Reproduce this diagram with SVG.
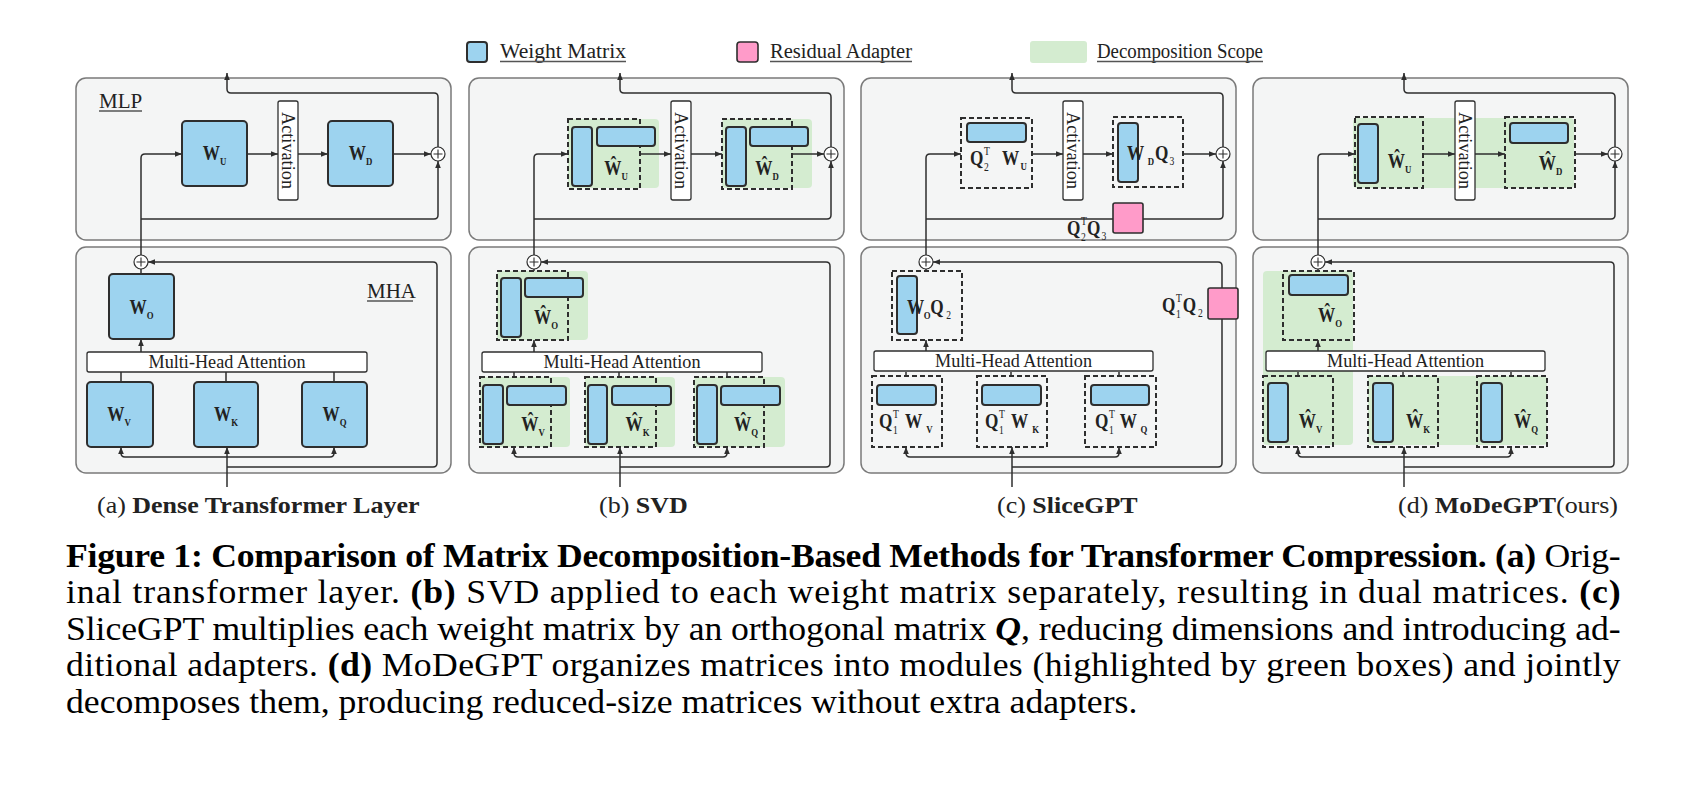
<svg xmlns="http://www.w3.org/2000/svg" width="1686" height="799" viewBox="0 0 1686 799">
<style>
.bg{fill:#fff}
.panel{fill:#f4f5f5;stroke:#7a7a7a;stroke-width:1.5}
.blue{fill:#9dd3ef;stroke:#2e2e2e;stroke-width:2}
.green{fill:#d4ecd0}
.dash{fill:none;stroke:#2e2e2e;stroke-width:2;stroke-dasharray:5 3}
.white{fill:#fff;stroke:#2e2e2e;stroke-width:1.3}
.pink{fill:#ff9bc9;stroke:#2e2e2e;stroke-width:1.6}
.conn{fill:none;stroke:#2e2e2e;stroke-width:1.5}
.plus{fill:#fff;stroke:#2e2e2e;stroke-width:1.2}
.s{font-family:"Liberation Serif","Times New Roman",serif;fill:#222}
.lbl{font-size:21px}
.ml{font-family:"Liberation Serif","Times New Roman",serif;fill:#222;font-weight:bold;font-size:21.5px}
.sb{font-size:11px;font-weight:bold}
.sn{font-size:12px;font-weight:normal}
.act{font-size:18.5px}
.mha{font-size:19px}
.leg{font-size:20px}
.cap{font-family:"Liberation Serif","Times New Roman",serif;fill:#000;font-size:34.5px}
.sc{font-family:"Liberation Serif","Times New Roman",serif;fill:#222;font-size:22.5px}
.ul{stroke:#555;stroke-width:1.3}
</style>
<defs>
<marker id="ah" viewBox="0 0 10 10" refX="10" refY="5" markerWidth="7" markerHeight="7" markerUnits="userSpaceOnUse" orient="auto-start-reverse"><path d="M0,1 L10,5 L0,9 z" fill="#2e2e2e"/></marker>
</defs>
<rect class="bg" x="0" y="0" width="1686" height="799"/>

<!-- legend -->
<g id="legend">
  <g id="legend-weight"><rect class="blue" x="467" y="42" width="20" height="20" rx="3"/><text class="s leg" x="500" y="58" textLength="126" lengthAdjust="spacingAndGlyphs">Weight Matrix</text><line class="ul" x1="500" y1="61.5" x2="626" y2="61.5"/></g>
  <g id="legend-adapter"><rect class="pink" x="737" y="42" width="21" height="20" rx="3"/><text class="s leg" x="770" y="58" textLength="142" lengthAdjust="spacingAndGlyphs">Residual Adapter</text><line class="ul" x1="770" y1="61.5" x2="912" y2="61.5"/></g>
  <g id="legend-scope"><rect class="green" x="1030" y="41" width="57" height="22" rx="3"/><text class="s leg" x="1097" y="58" textLength="166" lengthAdjust="spacingAndGlyphs">Decomposition Scope</text><line class="ul" x1="1097" y1="61.5" x2="1263" y2="61.5"/></g>
</g>

<!-- panel containers -->
<g id="containers">
  <g id="panel-a" transform="translate(0,0)">
    <rect class="panel" x="76" y="78" width="375" height="162" rx="10"/>
    <text class="s lbl" x="99" y="108">MLP</text><line class="ul" x1="99" y1="111" x2="142" y2="111"/>
    <rect class="panel" x="76" y="247" width="375" height="226" rx="10"/>
    <text class="s lbl" x="367" y="298">MHA</text><line class="ul" x1="367" y1="301" x2="413" y2="301"/>
  </g>
  <g id="panel-b" transform="translate(393,0)">
    <rect class="panel" x="76" y="78" width="375" height="162" rx="10"/>
    <rect class="panel" x="76" y="247" width="375" height="226" rx="10"/>
  </g>
  <g id="panel-c" transform="translate(785,0)">
    <rect class="panel" x="76" y="78" width="375" height="162" rx="10"/>
    <rect class="panel" x="76" y="247" width="375" height="226" rx="10"/>
  </g>
  <g id="panel-d" transform="translate(1177,0)">
    <rect class="panel" x="76" y="78" width="375" height="162" rx="10"/>
    <rect class="panel" x="76" y="247" width="375" height="226" rx="10"/>
  </g>
</g>

<!-- decomposition scopes (backgrounds) -->
<g id="scopes">
  <g transform="translate(393,0)">
    <rect id="b-scope-u" class="green" x="175" y="119" width="91" height="69" rx="4"/>
    <rect id="b-scope-d" class="green" x="329" y="119" width="90" height="69" rx="4"/>
    <rect id="b-scope-o" class="green" x="104" y="271" width="91" height="69" rx="4"/>
    <rect id="b-scope-v" class="green" x="87" y="377" width="90" height="70" rx="4"/>
    <rect id="b-scope-k" class="green" x="192" y="377" width="90" height="70" rx="4"/>
    <rect id="b-scope-q" class="green" x="301" y="377" width="91" height="70" rx="4"/>
  </g>
  <g transform="translate(1177,0)">
    <rect id="d-scope-ud" class="green" x="176" y="118" width="221" height="70" rx="4"/>
    <rect id="d-scope-vo" class="green" x="86" y="271" width="90" height="174" rx="4"/>
    <rect id="d-scope-qk" class="green" x="191" y="376" width="179" height="69" rx="4"/>
  </g>
</g>

<!-- connectors -->
<g id="connectors">
  <g id="conn-a">
    <path class="conn" d="M438,147 V97 Q438,93 434,93 H231 Q227,93 227,89 V73" marker-end="url(#ah)"/>
    <path class="conn" d="M141,255 V158 Q141,154 145,154 H182" marker-end="url(#ah)"/>
    <path class="conn" d="M141,219 H434 Q438,219 438,215 V161" marker-end="url(#ah)"/>
    <path class="conn" d="M247,154 H278" marker-end="url(#ah)"/>
    <path class="conn" d="M298,154 H328" marker-end="url(#ah)"/>
    <path class="conn" d="M393,154 H431" marker-end="url(#ah)"/>
    <path class="conn" d="M141,269 V274"/>
    <path class="conn" d="M141,352 V339" marker-end="url(#ah)"/>
    <path class="conn" d="M121,372 V382 M226,372 V382 M334,372 V382"/>
    <path class="conn" d="M227,487 V447" marker-end="url(#ah)"/>
    <path class="conn" d="M121,447 V453 Q121,457 125,457 H330 Q334,457 334,453 V447" marker-start="url(#ah)" marker-end="url(#ah)"/>
    <path class="conn" d="M227,467 H433 Q437,467 437,463 V266 Q437,262 433,262 H148" marker-end="url(#ah)"/>
  </g>
  <g id="conn-b" transform="translate(393,0)">
    <path class="conn" d="M438,147 V97 Q438,93 434,93 H231 Q227,93 227,89 V73" marker-end="url(#ah)"/>
    <path class="conn" d="M141,255 V158 Q141,154 145,154 H175" marker-end="url(#ah)"/>
    <path class="conn" d="M141,219 H434 Q438,219 438,215 V161" marker-end="url(#ah)"/>
    <path class="conn" d="M247,154 H278" marker-end="url(#ah)"/>
    <path class="conn" d="M298,154 H329" marker-end="url(#ah)"/>
    <path class="conn" d="M399,154 H431" marker-end="url(#ah)"/>
    <path class="conn" d="M141,269 V271"/>
    <path class="conn" d="M141,352 V340" marker-end="url(#ah)"/>
    <path class="conn" d="M121,372 V377 M226,372 V377 M334,372 V377"/>
    <path class="conn" d="M227,487 V447" marker-end="url(#ah)"/>
    <path class="conn" d="M121,447 V453 Q121,457 125,457 H330 Q334,457 334,453 V447" marker-start="url(#ah)" marker-end="url(#ah)"/>
    <path class="conn" d="M227,467 H433 Q437,467 437,463 V266 Q437,262 433,262 H148" marker-end="url(#ah)"/>
  </g>
  <g id="conn-c" transform="translate(785,0)">
    <path class="conn" d="M438,147 V97 Q438,93 434,93 H231 Q227,93 227,89 V73" marker-end="url(#ah)"/>
    <path class="conn" d="M141,255 V158 Q141,154 145,154 H176" marker-end="url(#ah)"/>
    <path class="conn" d="M141,219 H434 Q438,219 438,215 V161" marker-end="url(#ah)"/>
    <path class="conn" d="M247,154 H278" marker-end="url(#ah)"/>
    <path class="conn" d="M298,154 H328" marker-end="url(#ah)"/>
    <path class="conn" d="M398,154 H431" marker-end="url(#ah)"/>
    <path class="conn" d="M141,269 V271"/>
    <path class="conn" d="M141,352 V340" marker-end="url(#ah)"/>
    <path class="conn" d="M121,372 V376 M226,372 V376 M334,372 V376"/>
    <path class="conn" d="M227,487 V447" marker-end="url(#ah)"/>
    <path class="conn" d="M121,447 V453 Q121,457 125,457 H330 Q334,457 334,453 V447" marker-start="url(#ah)" marker-end="url(#ah)"/>
    <path class="conn" d="M227,467 H433 Q437,467 437,463 V266 Q437,262 433,262 H148" marker-end="url(#ah)"/>
  </g>
  <g id="conn-d" transform="translate(1177,0)">
    <path class="conn" d="M438,147 V97 Q438,93 434,93 H231 Q227,93 227,89 V73" marker-end="url(#ah)"/>
    <path class="conn" d="M141,255 V158 Q141,154 145,154 H178" marker-end="url(#ah)"/>
    <path class="conn" d="M141,219 H434 Q438,219 438,215 V161" marker-end="url(#ah)"/>
    <path class="conn" d="M246,154 H278" marker-end="url(#ah)"/>
    <path class="conn" d="M298,154 H328" marker-end="url(#ah)"/>
    <path class="conn" d="M398,154 H431" marker-end="url(#ah)"/>
    <path class="conn" d="M141,269 V271"/>
    <path class="conn" d="M141,352 V340" marker-end="url(#ah)"/>
    <path class="conn" d="M121,372 V376 M226,372 V376 M334,372 V376"/>
    <path class="conn" d="M227,487 V447" marker-end="url(#ah)"/>
    <path class="conn" d="M121,447 V453 Q121,457 125,457 H330 Q334,457 334,453 V447" marker-start="url(#ah)" marker-end="url(#ah)"/>
    <path class="conn" d="M227,467 H433 Q437,467 437,463 V266 Q437,262 433,262 H148" marker-end="url(#ah)"/>
  </g>
</g>

<!-- nodes: panel a -->
<g id="nodes-a">
  <g id="a-Wu"><rect class="blue" x="182" y="121" width="65" height="65" rx="4"/><text class="ml" text-anchor="middle" transform="translate(214.5,160) scale(0.8,1)">W<tspan class="sb" dy="5">U</tspan></text></g>
  <g id="a-act"><rect class="white" x="278" y="101" width="20" height="99" rx="2"/><text class="s act" text-anchor="middle" transform="translate(288,150.5) rotate(90)" dy="6" textLength="77" lengthAdjust="spacingAndGlyphs">Activation</text></g>
  <g id="a-Wd"><rect class="blue" x="328" y="121" width="65" height="65" rx="4"/><text class="ml" text-anchor="middle" transform="translate(360.5,160) scale(0.8,1)">W<tspan class="sb" dy="5">D</tspan></text></g>
  <g id="a-add1"><circle class="plus" cx="438" cy="154" r="7"/><path class="conn" style="stroke-width:1.1" d="M433.5,154 H442.5 M438,149.5 V158.5"/></g>
  <g id="a-add2"><circle class="plus" cx="141" cy="262" r="7"/><path class="conn" style="stroke-width:1.1" d="M136.5,262 H145.5 M141,257.5 V266.5"/></g>
  <g id="a-Wo"><rect class="blue" x="109" y="274" width="65" height="65" rx="4"/><text class="ml" text-anchor="middle" transform="translate(141.5,314) scale(0.8,1)">W<tspan class="sb" dy="5">O</tspan></text></g>
  <g id="a-mha"><rect class="white" x="87" y="352" width="280" height="20" rx="2"/><text class="s mha" x="227" y="368" text-anchor="middle" textLength="157" lengthAdjust="spacingAndGlyphs">Multi-Head Attention</text></g>
  <g id="a-Wv"><rect class="blue" x="87" y="382" width="66" height="65" rx="4"/><text class="ml" text-anchor="middle" transform="translate(119,421) scale(0.8,1)">W<tspan class="sb" dy="5">V</tspan></text></g>
  <g id="a-Wk"><rect class="blue" x="194" y="382" width="64" height="65" rx="4"/><text class="ml" text-anchor="middle" transform="translate(226,421) scale(0.8,1)">W<tspan class="sb" dy="5">K</tspan></text></g>
  <g id="a-Wq"><rect class="blue" x="302" y="382" width="65" height="65" rx="4"/><text class="ml" text-anchor="middle" transform="translate(334.5,421) scale(0.8,1)">W<tspan class="sb" dy="5">Q</tspan></text></g>
</g>

<!-- nodes: panel b -->
<g id="nodes-b" transform="translate(393,0)">
  <g id="b-Wu"><rect class="dash" x="175" y="119" width="72" height="70"/><rect class="blue" x="179" y="127" width="20" height="59" rx="3"/><rect class="blue" x="204" y="127" width="58" height="19" rx="3"/><text class="ml" text-anchor="middle" transform="translate(223,175) scale(0.8,1)">Ŵ<tspan class="sb" dy="5">U</tspan></text></g>
  <g id="b-act"><rect class="white" x="278" y="101" width="20" height="99" rx="2"/><text class="s act" text-anchor="middle" transform="translate(288,150.5) rotate(90)" dy="6" textLength="77" lengthAdjust="spacingAndGlyphs">Activation</text></g>
  <g id="b-Wd"><rect class="dash" x="329" y="119" width="70" height="70"/><rect class="blue" x="333" y="127" width="20" height="59" rx="3"/><rect class="blue" x="357" y="127" width="58" height="19" rx="3"/><text class="ml" text-anchor="middle" transform="translate(374,175) scale(0.8,1)">Ŵ<tspan class="sb" dy="5">D</tspan></text></g>
  <g id="b-add1"><circle class="plus" cx="438" cy="154" r="7"/><path class="conn" style="stroke-width:1.1" d="M433.5,154 H442.5 M438,149.5 V158.5"/></g>
  <g id="b-add2"><circle class="plus" cx="141" cy="262" r="7"/><path class="conn" style="stroke-width:1.1" d="M136.5,262 H145.5 M141,257.5 V266.5"/></g>
  <g id="b-Wo"><rect class="dash" x="104" y="271" width="71" height="69"/><rect class="blue" x="108" y="278" width="20" height="59" rx="3"/><rect class="blue" x="132" y="278" width="58" height="19" rx="3"/><text class="ml" text-anchor="middle" transform="translate(153,324) scale(0.8,1)">Ŵ<tspan class="sb" dy="5">O</tspan></text></g>
  <g id="b-mha"><rect class="white" x="89" y="352" width="280" height="20" rx="2"/><text class="s mha" x="229" y="368" text-anchor="middle" textLength="157" lengthAdjust="spacingAndGlyphs">Multi-Head Attention</text></g>
  <g id="b-Wv"><rect class="dash" x="87" y="377" width="71" height="70"/><rect class="blue" x="90" y="385" width="20" height="59" rx="3"/><rect class="blue" x="114" y="386" width="59" height="19" rx="3"/><text class="ml" text-anchor="middle" transform="translate(140,431) scale(0.8,1)">Ŵ<tspan class="sb" dy="5">V</tspan></text></g>
  <g id="b-Wk"><rect class="dash" x="192" y="377" width="71" height="70"/><rect class="blue" x="195" y="385" width="19" height="59" rx="3"/><rect class="blue" x="219" y="386" width="59" height="19" rx="3"/><text class="ml" text-anchor="middle" transform="translate(244.5,431) scale(0.8,1)">Ŵ<tspan class="sb" dy="5">K</tspan></text></g>
  <g id="b-Wq"><rect class="dash" x="301" y="377" width="70" height="70"/><rect class="blue" x="304" y="385" width="20" height="59" rx="3"/><rect class="blue" x="328" y="386" width="59" height="19" rx="3"/><text class="ml" text-anchor="middle" transform="translate(353,431) scale(0.8,1)">Ŵ<tspan class="sb" dy="5">Q</tspan></text></g>
</g>

<!-- nodes: panel c -->
<g id="nodes-c" transform="translate(785,0)">
  <g id="c-Wu"><rect class="dash" x="176" y="118" width="71" height="70"/><rect class="blue" x="182" y="123" width="59" height="19" rx="3"/>
    <g transform="translate(185,165) scale(0.8,1)"><text class="ml" x="0" y="0">Q</text><text class="ml sn" x="17.5" y="-10">T</text><text class="ml sn" x="17.5" y="6">2</text><text class="ml" x="40" y="0">W</text><text class="ml sb" x="63" y="5">U</text></g></g>
  <g id="c-act"><rect class="white" x="278" y="101" width="20" height="99" rx="2"/><text class="s act" text-anchor="middle" transform="translate(288,150.5) rotate(90)" dy="6" textLength="77" lengthAdjust="spacingAndGlyphs">Activation</text></g>
  <g id="c-Wd"><rect class="dash" x="328" y="117" width="70" height="70"/><rect class="blue" x="333" y="123" width="20" height="59" rx="3"/>
    <g transform="translate(342,160) scale(0.8,1)"><text class="ml" x="0" y="0">W</text><text class="ml sb" x="26" y="5">D</text><text class="ml" x="35" y="0">Q</text><text class="ml sn" x="53" y="5">3</text></g></g>
  <g id="c-add1"><circle class="plus" cx="438" cy="154" r="7"/><path class="conn" style="stroke-width:1.1" d="M433.5,154 H442.5 M438,149.5 V158.5"/></g>
  <g id="c-adapter2"><rect class="pink" x="328" y="203" width="30" height="30" rx="2"/>
    <g transform="translate(282,235) scale(0.8,1)"><text class="ml" x="0" y="0">Q</text><text class="ml sn" x="17.5" y="-10">T</text><text class="ml sn" x="17.5" y="6">2</text><text class="ml" x="25" y="0">Q</text><text class="ml sn" x="43" y="5">3</text></g></g>
  <g id="c-add2"><circle class="plus" cx="141" cy="262" r="7"/><path class="conn" style="stroke-width:1.1" d="M136.5,262 H145.5 M141,257.5 V266.5"/></g>
  <g id="c-Wo"><rect class="dash" x="107" y="271" width="70" height="69"/><rect class="blue" x="112" y="276" width="20" height="58" rx="3"/>
    <g transform="translate(122,314) scale(0.8,1)"><text class="ml" x="0" y="0">W</text><text class="ml sb" x="21" y="5">O</text><text class="ml" x="29" y="0">Q</text><text class="ml sn" x="49" y="5">2</text></g></g>
  <g id="c-adapter1"><rect class="pink" x="423" y="288" width="30" height="31" rx="2"/>
    <g transform="translate(377,312) scale(0.8,1)"><text class="ml" x="0" y="0">Q</text><text class="ml sn" x="17.5" y="-10">T</text><text class="ml sn" x="17.5" y="6">1</text><text class="ml" x="26" y="0">Q</text><text class="ml sn" x="45" y="5">2</text></g></g>
  <g id="c-mha"><rect class="white" x="89" y="351" width="279" height="20" rx="2"/><text class="s mha" x="228.5" y="367" text-anchor="middle" textLength="157" lengthAdjust="spacingAndGlyphs">Multi-Head Attention</text></g>
  <g id="c-Wv"><rect class="dash" x="87" y="376" width="70" height="71"/><rect class="blue" x="92" y="385" width="59" height="20" rx="3"/>
    <g transform="translate(94,428) scale(0.8,1)"><text class="ml" x="0" y="0">Q</text><text class="ml sn" x="17.5" y="-10">T</text><text class="ml sn" x="17.5" y="6">1</text><text class="ml" x="32.5" y="0">W</text><text class="ml sb" x="59" y="5">V</text></g></g>
  <g id="c-Wk"><rect class="dash" x="192" y="376" width="70" height="71"/><rect class="blue" x="197" y="385" width="59" height="20" rx="3"/>
    <g transform="translate(200,428) scale(0.8,1)"><text class="ml" x="0" y="0">Q</text><text class="ml sn" x="17.5" y="-10">T</text><text class="ml sn" x="17.5" y="6">1</text><text class="ml" x="32.5" y="0">W</text><text class="ml sb" x="59" y="5">K</text></g></g>
  <g id="c-Wq"><rect class="dash" x="300" y="376" width="71" height="71"/><rect class="blue" x="306" y="385" width="58" height="20" rx="3"/>
    <g transform="translate(310,428) scale(0.8,1)"><text class="ml" x="0" y="0">Q</text><text class="ml sn" x="17.5" y="-10">T</text><text class="ml sn" x="17.5" y="6">1</text><text class="ml" x="31" y="0">W</text><text class="ml sb" x="57" y="5">Q</text></g></g>
</g>

<!-- nodes: panel d -->
<g id="nodes-d" transform="translate(1177,0)">
  <g id="d-Wu"><rect class="dash" x="178" y="117" width="68" height="71"/><rect class="blue" x="181" y="124" width="20" height="59" rx="3"/><text class="ml" text-anchor="middle" transform="translate(222.5,168) scale(0.8,1)">Ŵ<tspan class="sb" dy="5">U</tspan></text></g>
  <g id="d-act"><rect class="white" x="278" y="101" width="20" height="99" rx="2"/><text class="s act" text-anchor="middle" transform="translate(288,150.5) rotate(90)" dy="6" textLength="77" lengthAdjust="spacingAndGlyphs">Activation</text></g>
  <g id="d-Wd"><rect class="dash" x="328" y="117" width="70" height="71"/><rect class="blue" x="333" y="123" width="58" height="20" rx="3"/><text class="ml" text-anchor="middle" transform="translate(373.5,170) scale(0.8,1)">Ŵ<tspan class="sb" dy="5">D</tspan></text></g>
  <g id="d-add1"><circle class="plus" cx="438" cy="154" r="7"/><path class="conn" style="stroke-width:1.1" d="M433.5,154 H442.5 M438,149.5 V158.5"/></g>
  <g id="d-add2"><circle class="plus" cx="141" cy="262" r="7"/><path class="conn" style="stroke-width:1.1" d="M136.5,262 H145.5 M141,257.5 V266.5"/></g>
  <g id="d-Wo"><rect class="dash" x="106" y="271" width="71" height="69"/><rect class="blue" x="112" y="275" width="59" height="20" rx="3"/><text class="ml" text-anchor="middle" transform="translate(153,322) scale(0.8,1)">Ŵ<tspan class="sb" dy="5">O</tspan></text></g>
  <g id="d-mha"><rect class="white" x="89" y="351" width="279" height="20" rx="2"/><text class="s mha" x="228.5" y="367" text-anchor="middle" textLength="157" lengthAdjust="spacingAndGlyphs">Multi-Head Attention</text></g>
  <g id="d-Wv"><rect class="dash" x="86" y="376" width="70" height="71"/><rect class="blue" x="91" y="383" width="20" height="59" rx="3"/><text class="ml" text-anchor="middle" transform="translate(133.5,428) scale(0.8,1)">Ŵ<tspan class="sb" dy="5">V</tspan></text></g>
  <g id="d-Wk"><rect class="dash" x="191" y="376" width="70" height="71"/><rect class="blue" x="196" y="383" width="20" height="59" rx="3"/><text class="ml" text-anchor="middle" transform="translate(241,428) scale(0.8,1)">Ŵ<tspan class="sb" dy="5">K</tspan></text></g>
  <g id="d-Wq"><rect class="dash" x="300" y="376" width="70" height="71"/><rect class="blue" x="304" y="383" width="21" height="59" rx="3"/><text class="ml" text-anchor="middle" transform="translate(349,428) scale(0.8,1)">Ŵ<tspan class="sb" dy="5">Q</tspan></text></g>
</g>

<!-- sub-captions -->
<g id="subcaptions">
  <text class="sc" transform="translate(97,513) scale(1.155,1)">(a) <tspan font-weight="bold">Dense Transformer Layer</tspan></text>
  <text class="sc" transform="translate(599,513) scale(1.155,1)">(b) <tspan font-weight="bold">SVD</tspan></text>
  <text class="sc" transform="translate(997,513) scale(1.155,1)">(c) <tspan font-weight="bold">SliceGPT</tspan></text>
  <text class="sc" transform="translate(1398,513) scale(1.155,1)">(d) <tspan font-weight="bold">MoDeGPT</tspan>(ours)</text>
</g>

<!-- figure caption -->
<g id="caption" transform="translate(66,0) scale(1.035,1)">
  <text class="cap" x="0" y="567" textLength="1502" lengthAdjust="spacing"><tspan font-weight="bold">Figure 1: Comparison of Matrix Decomposition-Based Methods for Transformer Compression.</tspan> <tspan font-weight="bold">(a)</tspan> Orig-</text>
  <text class="cap" x="0" y="603.5" textLength="1502" lengthAdjust="spacing">inal transformer layer. <tspan font-weight="bold">(b)</tspan> SVD applied to each weight matrix separately, resulting in dual matrices. <tspan font-weight="bold">(c)</tspan></text>
  <text class="cap" x="0" y="640" textLength="1502" lengthAdjust="spacing">SliceGPT multiplies each weight matrix by an orthogonal matrix <tspan font-weight="bold" font-style="italic">Q</tspan>, reducing dimensions and introducing ad-</text>
  <text class="cap" x="0" y="676.5" textLength="1502" lengthAdjust="spacing">ditional adapters. <tspan font-weight="bold">(d)</tspan> MoDeGPT organizes matrices into modules (highlighted by green boxes) and jointly</text>
  <text class="cap" x="0" y="713">decomposes them, producing reduced-size matrices without extra adapters.</text>
</g>
</svg>
